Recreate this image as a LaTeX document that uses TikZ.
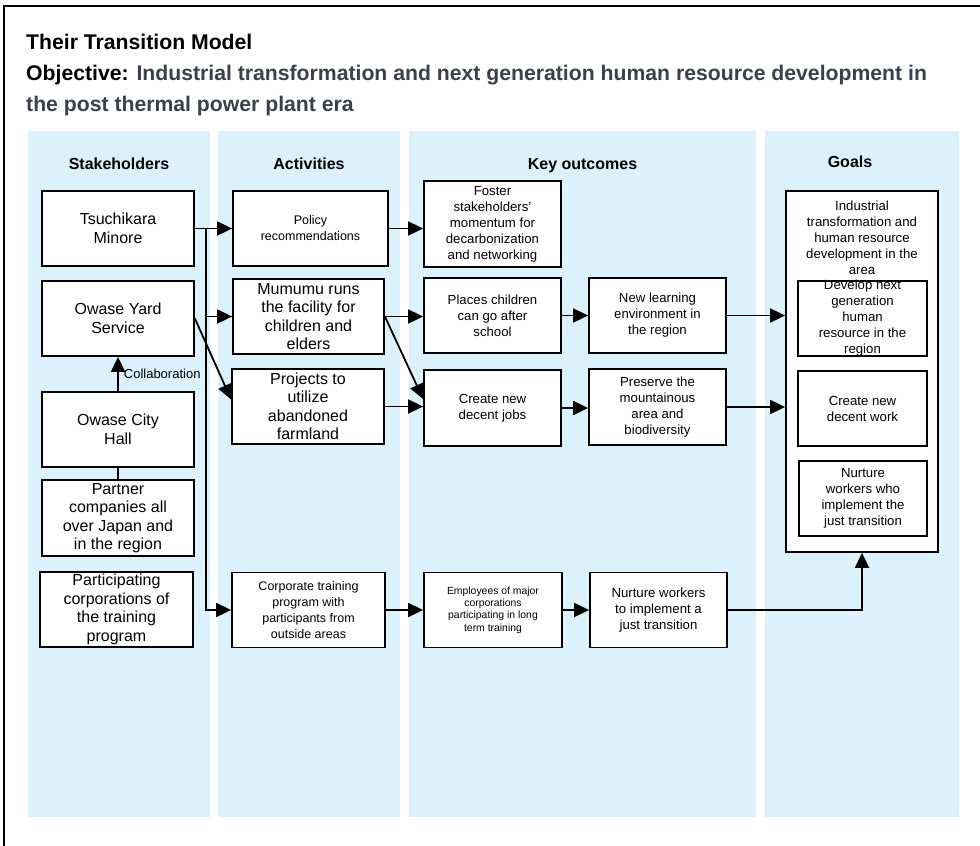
\documentclass[tikz,border=0pt]{standalone}
\usepackage{fontspec}
\setmainfont{Liberation Sans}
\usetikzlibrary{arrows.meta}
\definecolor{colbg}{RGB}{220,241,251}
\definecolor{objtxt}{RGB}{58,64,76}
\newcommand\szbig{\fontsize{16}{18.5}\selectfont}
\newcommand\szmid{\fontsize{13.2}{16}\selectfont}
\newcommand\szpol{\fontsize{12.5}{16}\selectfont}
\newcommand\sztiny{\fontsize{10.4}{12.3}\selectfont}
\newcommand\sztitle{\fontsize{21.2}{31}\selectfont}
\newcommand\szhead{\fontsize{16}{19}\selectfont}
\begin{document}
\begin{tikzpicture}[x=1pt,y=-1pt,
  box/.style={draw, line width=1.8pt, fill=white, align=center, inner sep=0pt, text=black},
  arr/.style={line width=1.8pt, -{Triangle[length=15pt,width=14pt]}},
  plain/.style={line width=1.8pt},
  colbox/.style={fill=colbg, draw=none},
  head/.style={font=\szhead\bfseries, anchor=base},
  txt/.style={align=center, inner sep=0pt}]
\useasboundingbox (0,0) rectangle (980,846);
\fill[white] (0,0) rectangle (980,846);
\draw[line width=2pt] (4,846) -- (4,5.5) -- (980,5.5);
% title
\node[anchor=base west, inner sep=0pt, font=\sztitle\bfseries] (t1) at (26,49) {Their Transition Model};
\node[anchor=base west, inner sep=0pt, font=\sztitle\bfseries, text=objtxt] (t2) at (26,80) {\textcolor{black}{Objective:} Industrial transformation and next generation human resource development in};
\node[anchor=base west, inner sep=0pt, font=\sztitle\bfseries, text=objtxt] (t3) at (26,111) {the post thermal power plant era};
% columns
\fill[colbox] (28,131) rectangle (210,817);
\fill[colbox] (218,131) rectangle (400,817);
\fill[colbox] (409,131) rectangle (756,817);
\fill[colbox] (765,131) rectangle (959,817);
\node[head] (h1) at (119,169) {Stakeholders};
\node[head] (h2) at (309,169) {Activities};
\node[head] (h3) at (582.5,169) {Key outcomes};
\node[head] (h4) at (850,167) {Goals};
% stakeholders
\node[box, font=\szbig, minimum width=152pt, minimum height=75pt] (ts) at (118,228.5) {Tsuchikara\\Minore};
\node[box, font=\szbig, minimum width=152pt, minimum height=75pt] (oy) at (118,318.5) {Owase Yard\\Service};
\node[box, font=\szbig, minimum width=152pt, minimum height=75pt] (ch) at (118,429.5) {Owase City\\Hall};
\node[box, font=\szbig, minimum width=152pt, minimum height=76pt] (pa) at (118,518) {Partner\\companies all\\over Japan and\\in the region};
\node[box, font=\szbig, minimum width=153pt, minimum height=75pt] (pc) at (116.5,609.5) {Participating\\corporations of\\the training\\program};
% activities
\node[box, font=\szpol, minimum width=155pt, minimum height=75pt] (pol) at (310.5,228.5) {Policy\\recommendations};
\node[box, font=\szbig, minimum width=151pt, minimum height=75pt] (mu) at (308.5,316.5) {Mumumu runs\\the facility for\\children and\\elders};
\node[box, font=\szbig, minimum width=152pt, minimum height=75pt] (proj) at (308,406.5) {Projects to\\utilize\\abandoned\\farmland};
\node[box, font=\szpol, minimum width=153pt, minimum height=75pt] (corp) at (308.5,610) {Corporate training\\program with\\participants from\\outside areas};
% key outcomes
\node[box, font=\szmid, minimum width=137pt, minimum height=86pt] (fos) at (492.5,224) {Foster\\stakeholders'\\momentum for\\decarbonization\\and networking};
\node[box, font=\szmid, minimum width=137pt, minimum height=75pt] (pl) at (492.5,315.5) {Places children\\can go after\\school};
\node[box, font=\szmid, minimum width=137pt, minimum height=75pt] (nl) at (657.5,315.5) {New learning\\environment in\\the region};
\node[box, font=\szmid, minimum width=137pt, minimum height=76pt] (cr) at (492.5,408) {Create new\\decent jobs};
\node[box, font=\szmid, minimum width=137pt, minimum height=76pt] (pr) at (657.5,407) {Preserve the\\mountainous\\area and\\biodiversity};
\node[box, font=\sztiny, minimum width=138pt, minimum height=75pt] (emp) at (493,610) {Employees of major\\corporations\\participating in long\\term training};
\node[box, font=\szmid, minimum width=137pt, minimum height=75pt] (nur) at (658.5,610) {Nurture workers\\to implement a\\just transition};
% goals
\node[box, minimum width=152pt, minimum height=361pt] (goal) at (862,371.5) {};
\node[txt, font=\szmid] (gt) at (862,237.7) {Industrial\\transformation and\\human resource\\development in the\\area};
\node[box, minimum width=129pt, minimum height=75pt] (dev) at (862.5,318.5) {};
\node[txt, font=\szmid] (devt) at (dev) {Develop next\\generation\\human\\resource in the\\region};
\node[box, font=\szmid, minimum width=129pt, minimum height=75pt] (cdw) at (862.5,408.5) {Create new\\decent work};
\node[box, font=\szmid, minimum width=128pt, minimum height=75pt] (nww) at (863,498.5) {Nurture\\workers who\\implement the\\just transition};
% connectors
\coordinate (j1) at (206,228.5);
\draw[arr] (ts.east) -- (pol.west);
\draw[arr] (j1) |- (corp.west);
\draw[arr] (j1 |- mu.west) -- (mu.west);
\draw[arr] (oy.east) -- ([yshift=7pt]proj.west);
\draw[arr] (ch.north) -- node[right, xshift=5pt, inner sep=0pt, font=\fontsize{13}{15}\selectfont] (col) {Collaboration} (oy.south);
\draw[plain] (ch.south) -- (pa.north);
\draw[arr] (pol.east) -- (fos.west |- pol.east);
\draw[arr] (mu.east) -- (pl.west |- mu.east);
\draw[arr] (mu.east) -- ([yshift=9pt]cr.west);
\draw[arr] (proj.east) -- (cr.west |- proj.east);
\draw[arr] (pl.east) -- (nl.west);
\draw[arr] (cr.east) -- (pr.west |- cr.east);
\draw[arr] (nl.east) -- (goal.west |- nl.east);
\draw[arr] (pr.east) -- (goal.west |- pr.east);
\draw[arr] (corp.east) -- (emp.west);
\draw[arr] (emp.east) -- (nur.west);
\draw[arr] (nur.east) -| (goal.south);
\end{tikzpicture}
\end{document}
